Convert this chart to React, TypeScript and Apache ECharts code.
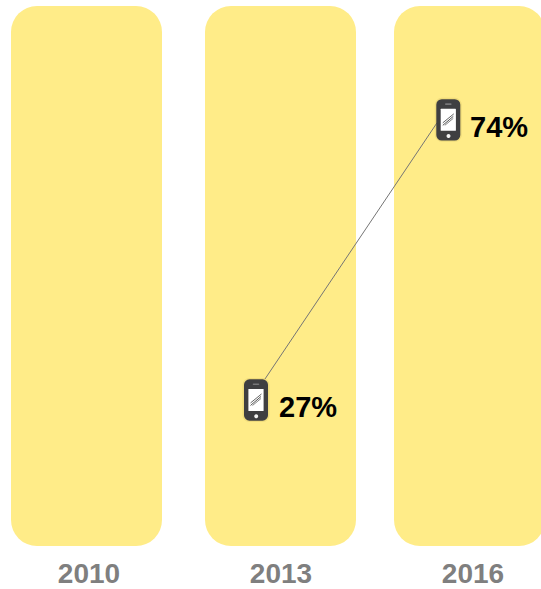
import React, { useEffect, useRef } from "react";
import * as echarts from "echarts";

const years = ["2010", "2013", "2016"];
const smartphoneShare: (number | null)[] = [null, 27, 74];
const axisMin = 2.5;
const axisMax = 93.1;

const BAND_COLOR = "#FFEC88";
const BAND_WIDTH = 151;
const BAND_RADIUS = 26;
const bandOffsets = [-2.5, -0.5, -3.5];
const phoneOffsets = [0, -25, -24.7];
const textOffsets = [0, -2, -3];
const anchorIn = [
  [0, 0],
  [0, 0],
  [-11.3, 3],
];
const anchorOut = [
  [0, 0],
  [9, -21],
  [0, 0],
];

function renderBand(params: any, api: any) {
  const i = params.dataIndex;
  const top = api.coord([i, axisMax]);
  const bottom = api.coord([i, axisMin]);
  return {
    type: "rect",
    shape: {
      x: top[0] + bandOffsets[i] - BAND_WIDTH / 2,
      y: top[1],
      width: BAND_WIDTH,
      height: bottom[1] - top[1],
      r: BAND_RADIUS,
    },
    style: { fill: BAND_COLOR },
  };
}

function renderPhone(params: any, api: any) {
  const i = params.dataIndex;
  const v = smartphoneShare[i];
  if (v == null) return { type: "group", children: [] };
  const p = api.coord([i, v]);
  const cx = p[0] + phoneOffsets[i];
  const cy = p[1];
  const children: any[] = [];
  const prev = smartphoneShare[i - 1];
  if (prev != null) {
    const q = api.coord([i - 1, prev]);
    children.push({
      type: "line",
      shape: {
        x1: q[0] + phoneOffsets[i - 1] + anchorOut[i - 1][0],
        y1: q[1] + anchorOut[i - 1][1],
        x2: cx + anchorIn[i][0],
        y2: cy + anchorIn[i][1],
      },
      style: { stroke: "#757575", lineWidth: 1 },
    });
  }
  children.push(
    { type: "rect", shape: { x: cx - 13.5, y: cy - 22, width: 27, height: 44, r: 7 }, style: { fill: "rgba(150,130,50,0.14)" } },
    { type: "rect", shape: { x: cx - 12, y: cy - 20.7, width: 24, height: 41.4, r: 5.5 }, style: { fill: "#3F3F41" } },
    { type: "rect", shape: { x: cx - 7.6, y: cy - 11, width: 15.2, height: 22, r: 0.5 }, style: { fill: "#FFFFFF" } },
    { type: "rect", shape: { x: cx - 3.3, y: cy - 16.5, width: 6.6, height: 1.6, r: 0.8 }, style: { fill: "#777779" } },
    { type: "circle", shape: { cx: cx + 0.2, cy: cy + 16.2, r: 2 }, style: { fill: "#F2F2F2" } },
    { type: "line", shape: { x1: cx - 5.5, y1: cy + 3, x2: cx + 5.5, y2: cy - 6 }, style: { stroke: "#666666", lineWidth: 1 } },
    { type: "line", shape: { x1: cx - 5.5, y1: cy + 5.5, x2: cx + 5, y2: cy - 3.5 }, style: { stroke: "#555555", lineWidth: 1 } },
    { type: "line", shape: { x1: cx - 3.5, y1: cy + 5.5, x2: cx + 5, y2: cy - 1.5 }, style: { stroke: "#777777", lineWidth: 0.9 } },
    {
      type: "text",
      style: {
        x: p[0] + textOffsets[i],
        y: cy + 7.5,
        text: v + "%",
        fill: "#000000",
        font: 'bold 29px "Liberation Sans", Arial, sans-serif',
        align: "left",
        verticalAlign: "middle",
      },
    },
  );
  return { type: "group", children };
}

export default function App() {
  const ref = useRef<HTMLDivElement>(null);
  useEffect(() => {
    if (!ref.current) return;
    const chart = echarts.init(ref.current, null, { renderer: "svg" });
    chart.setOption({
      animation: false,
      backgroundColor: "#FFFFFF",
      grid: { left: -7, width: 576, top: 6, height: 540, containLabel: false, outerBoundsMode: "none" },
      xAxis: {
        type: "category",
        data: years,
        axisLine: { show: false },
        axisTick: { show: false },
        axisLabel: {
          margin: 15,
          lineHeight: 24,
          color: "#7F7F7F",
          fontSize: 28,
          fontWeight: "bold",
          fontFamily: '"Liberation Sans", Arial, sans-serif',
        },
      },
      yAxis: { type: "value", min: axisMin, max: axisMax, show: false, splitLine: { show: false } },
      series: [
        { type: "custom", name: "band", renderItem: renderBand, data: years.map((_, i) => [i]), clip: false, encode: { x: 0 } },
        {
          type: "custom",
          name: "smartphone",
          renderItem: renderPhone,
          data: smartphoneShare.map((v, i) => [i, v]),
          clip: false,
          encode: { x: 0, y: 1 },
        },
      ],
    });
    return () => chart.dispose();
  }, []);
  return <div ref={ref} style={{ position: "fixed", left: 0, top: 0, width: 541, height: 589 }} />;
}
